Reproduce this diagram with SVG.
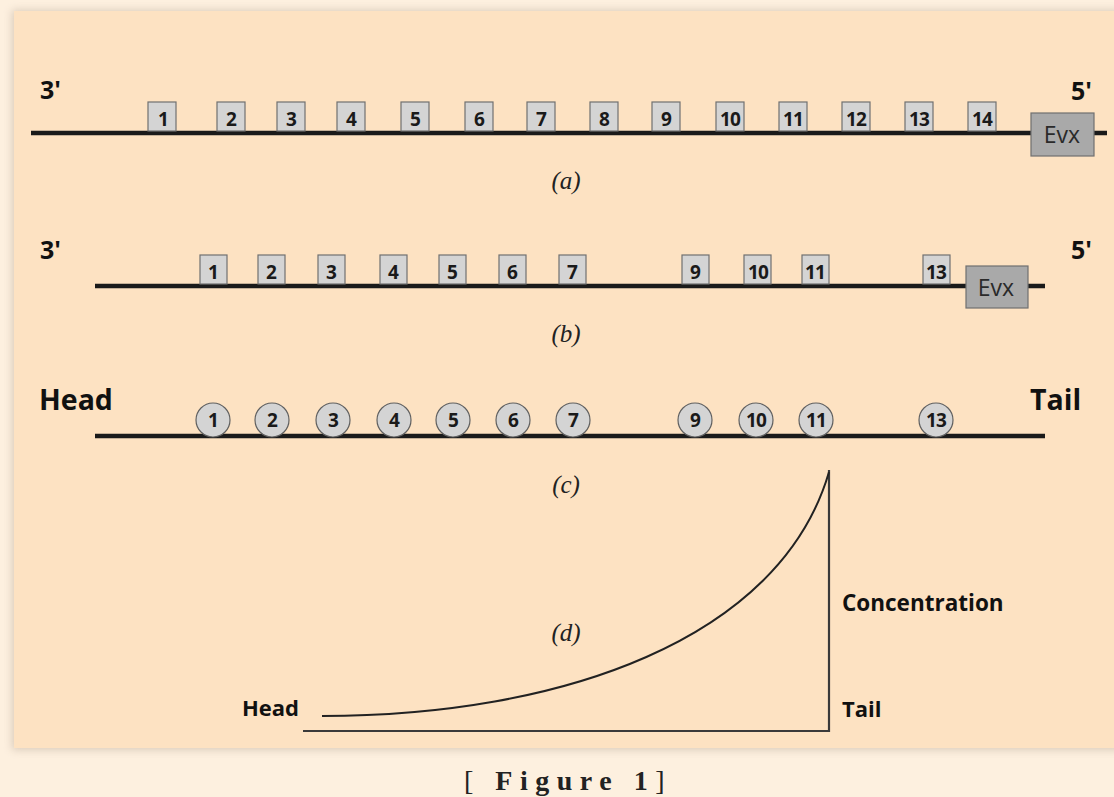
<svg xmlns="http://www.w3.org/2000/svg" width="1114" height="797" viewBox="0 0 1114 797">
<defs>
<filter id="sh" x="-5%" y="-5%" width="110%" height="110%"><feGaussianBlur stdDeviation="4"/></filter>
<style>
.lbl{font-family:"Open Sans","Noto Sans","Liberation Sans",sans-serif;font-weight:bold;fill:#111;}
.num{font-family:"Open Sans","Noto Sans","Liberation Sans",sans-serif;font-weight:bold;font-size:19px;letter-spacing:-0.8px;fill:#1a1a1a;text-anchor:middle;}
.cap{font-family:"Liberation Serif","DejaVu Serif",serif;font-style:italic;font-size:25px;fill:#222;text-anchor:middle;}
.box{fill:#d4d4d4;stroke:#707070;stroke-width:1.2;}
.evx{fill:#a9a9a9;stroke:#707070;stroke-width:1.2;}
.evxt{font-family:"Open Sans","Noto Sans","Liberation Sans",sans-serif;font-size:23px;fill:#2a2a2a;text-anchor:middle;}
.circ{fill:#d4d4d4;stroke:#606060;stroke-width:1.2;}
.dna{stroke:#1a1a1a;stroke-width:4.5;fill:none;}
.axis{stroke:#3a3a3a;stroke-width:2.2;fill:none;}
</style>
</defs>
<rect width="1114" height="797" fill="#fdf0df"/>
<rect x="12" y="10" width="1110" height="740" fill="#b0a090" opacity="0.45" filter="url(#sh)"/>
<rect x="14" y="11" width="1100" height="737" fill="#fde2c2"/>

<g id="panel-a">
<line class="dna" x1="31" y1="133" x2="1107" y2="133"/>
<text class="lbl" x="40" y="99" font-size="25">3'</text>
<text class="lbl" x="1071" y="100" font-size="25">5'</text>
<g id="a-boxes">
<rect class="box" x="148" y="102" width="28" height="29"/><text class="num" x="163" y="126">1</text>
<rect class="box" x="217" y="102" width="28" height="29"/><text class="num" x="231" y="126">2</text>
<rect class="box" x="277" y="102" width="28" height="29"/><text class="num" x="291" y="126">3</text>
<rect class="box" x="337" y="102" width="28" height="29"/><text class="num" x="351" y="126">4</text>
<rect class="box" x="401" y="102" width="28" height="29"/><text class="num" x="415" y="126">5</text>
<rect class="box" x="465" y="102" width="28" height="29"/><text class="num" x="479" y="126">6</text>
<rect class="box" x="527" y="102" width="28" height="29"/><text class="num" x="541" y="126">7</text>
<rect class="box" x="590" y="102" width="28" height="29"/><text class="num" x="604" y="126">8</text>
<rect class="box" x="652" y="102" width="28" height="29"/><text class="num" x="666" y="126">9</text>
<rect class="box" x="716" y="102" width="28" height="29"/><text class="num" x="730" y="126">10</text>
<rect class="box" x="779" y="102" width="28" height="29"/><text class="num" x="793" y="126">11</text>
<rect class="box" x="842" y="102" width="28" height="29"/><text class="num" x="856" y="126">12</text>
<rect class="box" x="905" y="102" width="28" height="29"/><text class="num" x="919" y="126">13</text>
<rect class="box" x="968" y="102" width="28" height="29"/><text class="num" x="982" y="126">14</text>
</g>
<rect class="evx" x="1031" y="113" width="63" height="43"/><text class="evxt" x="1062" y="143">Evx</text>
<text class="cap" x="566" y="189">(a)</text>
</g>

<g id="panel-b">
<line class="dna" x1="95" y1="286" x2="1045" y2="286"/>
<text class="lbl" x="40" y="259" font-size="25">3'</text>
<text class="lbl" x="1071" y="259" font-size="25">5'</text>
<g id="b-boxes">
<rect class="box" x="200" y="255" width="27" height="29"/><text class="num" x="213" y="279">1</text>
<rect class="box" x="258" y="255" width="27" height="29"/><text class="num" x="271" y="279">2</text>
<rect class="box" x="318" y="255" width="27" height="29"/><text class="num" x="331" y="279">3</text>
<rect class="box" x="380" y="255" width="27" height="29"/><text class="num" x="393" y="279">4</text>
<rect class="box" x="439" y="255" width="27" height="29"/><text class="num" x="452" y="279">5</text>
<rect class="box" x="499" y="255" width="27" height="29"/><text class="num" x="512" y="279">6</text>
<rect class="box" x="559" y="255" width="27" height="29"/><text class="num" x="572" y="279">7</text>
<rect class="box" x="682" y="255" width="27" height="29"/><text class="num" x="695" y="279">9</text>
<rect class="box" x="744" y="255" width="27" height="29"/><text class="num" x="758" y="279">10</text>
<rect class="box" x="802" y="255" width="27" height="29"/><text class="num" x="815" y="279">11</text>
<rect class="box" x="923" y="255" width="27" height="29"/><text class="num" x="936" y="279">13</text>
</g>
<rect class="evx" x="966" y="266" width="62" height="42"/><text class="evxt" x="996" y="296">Evx</text>
<text class="cap" x="566" y="342">(b)</text>
</g>

<g id="panel-c">
<line class="dna" x1="95" y1="436" x2="1045" y2="436"/>
<text class="lbl" x="39" y="410" font-size="28.5">Head</text>
<text class="lbl" x="1030" y="410" font-size="28.5">Tail</text>
<g id="c-circles">
<circle class="circ" cx="213" cy="420" r="17"/><text class="num" x="213" y="427">1</text>
<circle class="circ" cx="272" cy="420" r="17"/><text class="num" x="272" y="427">2</text>
<circle class="circ" cx="333" cy="420" r="17"/><text class="num" x="333" y="427">3</text>
<circle class="circ" cx="394" cy="420" r="17"/><text class="num" x="394" y="427">4</text>
<circle class="circ" cx="453" cy="420" r="17"/><text class="num" x="453" y="427">5</text>
<circle class="circ" cx="513" cy="420" r="17"/><text class="num" x="513" y="427">6</text>
<circle class="circ" cx="573" cy="420" r="17"/><text class="num" x="573" y="427">7</text>
<circle class="circ" cx="695" cy="420" r="17"/><text class="num" x="695" y="427">9</text>
<circle class="circ" cx="756" cy="420" r="17"/><text class="num" x="756" y="427">10</text>
<circle class="circ" cx="816" cy="420" r="17"/><text class="num" x="816" y="427">11</text>
<circle class="circ" cx="936" cy="420" r="17"/><text class="num" x="936" y="427">13</text>
</g>
<text class="cap" x="566" y="493">(c)</text>
</g>

<g id="panel-d">
<path class="axis" d="M303,731 H829 V470"/>
<path d="M322,716 C560,716 780,640 829,472" fill="none" stroke="#222" stroke-width="2"/>
<text class="lbl" x="242" y="716" font-size="22">Head</text>
<text class="lbl" x="842" y="717" font-size="22">Tail</text>
<text class="lbl" x="842" y="611" font-size="22.5">Concentration</text>
<text class="cap" x="566" y="641">(d)</text>
</g>

<text x="568" y="790" text-anchor="middle" font-family="Liberation Serif, DejaVu Serif, serif" font-size="28" fill="#222" letter-spacing="7.5"><tspan>[ </tspan><tspan font-weight="bold">Figure 1</tspan><tspan>]</tspan></text>
</svg>
